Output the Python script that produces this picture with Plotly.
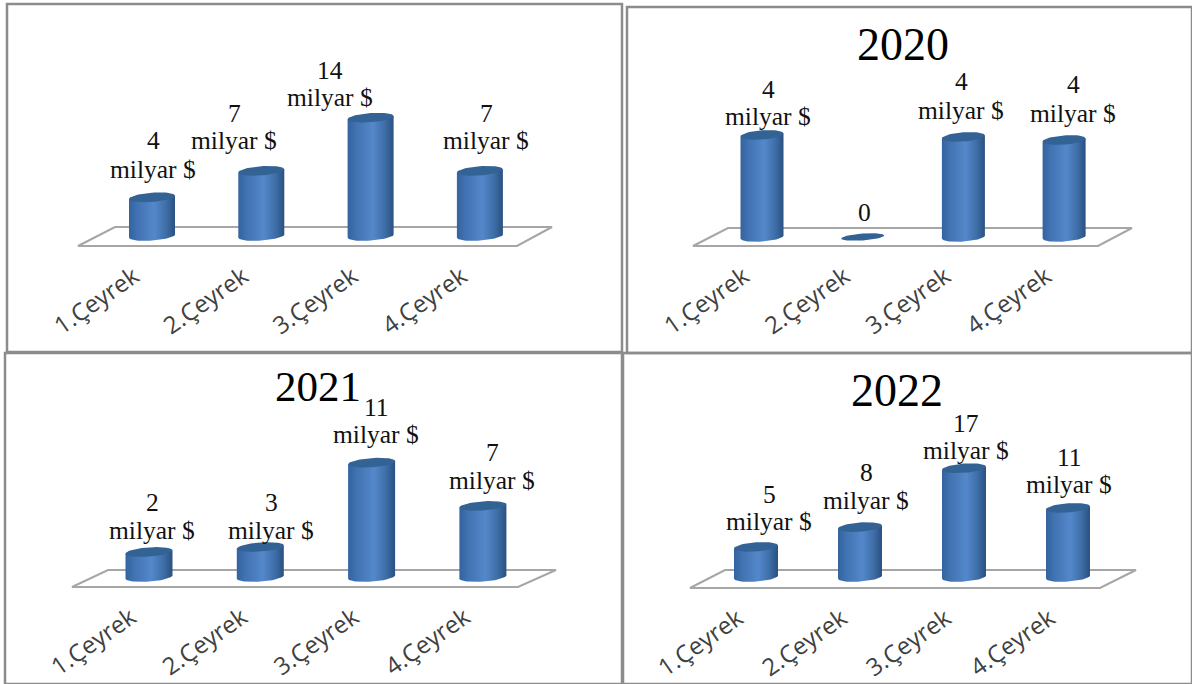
import numpy as np
import plotly.graph_objects as go

W, H = 1192, 684
categories = ["1.Çeyrek", "2.Çeyrek", "3.Çeyrek", "4.Çeyrek"]

values_a = [4.45, 7.49, 13.6, 7.49]
values_2020 = [4.05, 0, 3.97, 3.85]
values_2021 = [2.43, 2.91, 11.1, 6.9]
values_2022 = [4.7, 7.8, 17.0, 10.8]

numbers_a = ["4", "7", "14", "7"]
numbers_2020 = ["4", "0", "4", "4"]
numbers_2021 = ["2", "3", "11", "7"]
numbers_2022 = ["5", "8", "17", "11"]
unit = "milyar $"

# layout of each panel, in page pixels
panels = [
    dict(title=None, vals=values_a, nums=numbers_a,
         box=(7, 4, 622, 352), floor=[(78, 246), (517, 246), (552, 227), (115, 227)],
         c0=152, step=109.3, bw=46, base=236, scale=8.7, ty=None, tx=None, tsize=46,
         lx=[153, 234, 330, 486], ly1=[140, 114, 70, 114], ly2=[169, 141, 97, 141], shift=-18),
    dict(title="2020", vals=values_2020, nums=numbers_2020,
         box=(627, 7, 1192, 353), floor=[(693, 246), (1098, 246), (1132, 228), (728, 228)],
         c0=762, step=100.7, bw=43, base=237, scale=25.2, ty=44, tx=903, tsize=46,
         lx=[768, 864, 961, 1073], ly1=[90, 213, 82, 85], ly2=[117, None, 110, 113], shift=-18),
    dict(title="2021", vals=values_2021, nums=numbers_2021,
         box=(5, 353, 622, 684), floor=[(72, 587), (518, 587), (556, 570), (108, 570)],
         c0=149, step=111.3, bw=47, base=577, scale=10.3, ty=386, tx=318, tsize=43,
         lx=[152, 271, 376, 492], ly1=[502, 502, 407, 452], ly2=[530, 530, 434, 480], shift=-18),
    dict(title="2022", vals=values_2022, nums=numbers_2022,
         box=(623, 353, 1192, 684), floor=[(690, 588), (1100, 588), (1136, 570), (725, 570)],
         c0=756, step=104, bw=44, base=577, scale=6.4, ty=390, tx=897, tsize=46,
         lx=[769, 866, 966, 1069], ly1=[494, 472, 423, 457], ly2=[521, 500, 450, 484], shift=-18),
]

side_scale = [[0, "#33649f"], [0.2, "#4273b3"], [0.55, "#5488ca"], [0.8, "#3f6fa9"], [1, "#2a5180"]]
TOP = "#336295"
TILT = 0.07
RY = 4.6

fig = go.Figure()
shapes, annos = [], []


def px(x):
    return x / W


def py(y):
    return 1 - y / H


for n, p in enumerate(panels):
    sfx = "" if n == 0 else str(n + 1)
    L, T, R, B = p["box"]
    axis_y = p["floor"][0][1]
    xr = [(L - p["c0"]) / p["step"], (R - p["c0"]) / p["step"]]
    yr = [(p["base"] - axis_y) / p["scale"], (p["base"] - T) / p["scale"]]
    fig.update_layout({
        f"xaxis{sfx}": dict(domain=[px(L), px(R)], range=xr, tickmode="array", tickvals=[0, 1, 2, 3],
                            ticktext=categories, tickangle=-35, showgrid=False, zeroline=False, showline=False,
                            ticks="", ticklabelstandoff=11, ticklabelshift=p["shift"],
                            tickfont=dict(family="Open Sans", size=24, color="#404040"), anchor=f"y{sfx}",
                            fixedrange=True),
        f"yaxis{sfx}": dict(domain=[py(axis_y), py(T)], range=yr, visible=False, anchor=f"x{sfx}",
                            fixedrange=True),
    })
    xa, ya = f"x{sfx}", f"y{sfx}"
    hw = p["bw"] / 2 / p["step"]
    ry = RY / p["scale"]
    tilt = TILT * p["step"] / p["scale"]
    t = np.linspace(0, 2 * np.pi, 61)
    for i, v in enumerate(p["vals"]):
        if v > 0:
            # the bar itself, then the shaded cylinder built from the same value
            fig.add_trace(go.Bar(x=[i], y=[v], width=hw * 1.9, marker=dict(color="#4a7dbd", line_width=0),
                                 xaxis=xa, yaxis=ya, showlegend=False, hoverinfo="skip"))
            a = np.linspace(np.pi, 2 * np.pi, 31)
            xs = i + hw * np.cos(a)
            ys = ry * np.sin(a) + tilt * (xs - i)
            bx = np.concatenate([xs, [i + hw, i - hw, xs[0]]])
            by = np.concatenate([ys, [v + tilt * hw, v - tilt * hw, ys[0]]])
            fig.add_trace(go.Scatter(x=bx, y=by, mode="lines", line=dict(width=0), fill="toself",
                                     fillgradient=dict(type="horizontal", colorscale=side_scale),
                                     xaxis=xa, yaxis=ya, showlegend=False, hoverinfo="skip"))
        ex = i + hw * np.cos(t)
        ey = v + (ry if v > 0 else ry * 0.75) * np.sin(t) + tilt * (ex - i)
        fig.add_trace(go.Scatter(x=ex, y=ey, mode="lines", line=dict(width=0), fill="toself", fillcolor=TOP,
                                 xaxis=xa, yaxis=ya, showlegend=False, hoverinfo="skip"))
        annos.append(dict(x=px(p["lx"][i]), y=py(p["ly1"][i]), xref="paper", yref="paper", text=p["nums"][i],
                          showarrow=False, xanchor="center", yanchor="middle",
                          font=dict(family="Liberation Serif", size=25.5, color="#111111")))
        if p["ly2"][i] is not None:
            annos.append(dict(x=px(p["lx"][i]), y=py(p["ly2"][i]), xref="paper", yref="paper", text=unit,
                              showarrow=False, xanchor="center", yanchor="middle",
                              font=dict(family="Liberation Serif", size=25.5, color="#111111")))
    if p["title"]:
        annos.append(dict(x=px(p["tx"]), y=py(p["ty"]), xref="paper", yref="paper", text=p["title"],
                          showarrow=False, xanchor="center", yanchor="middle",
                          font=dict(family="Liberation Serif", size=p["tsize"], color="#000000")))
    path = "M " + " L ".join(f"{px(x):.5f},{py(y):.5f}" for x, y in p["floor"]) + " Z"
    shapes.append(dict(type="path", path=path, xref="paper", yref="paper", layer="below",
                       line=dict(color="#a6a6a6", width=2), fillcolor="rgba(0,0,0,0)"))
    shapes.append(dict(type="rect", x0=px(L), x1=px(R), y0=py(B), y1=py(T), xref="paper", yref="paper",
                       layer="below", line=dict(color="#8c8c8c", width=2.5), fillcolor="rgba(0,0,0,0)"))

fig.update_layout(width=W, height=H, margin=dict(l=0, r=0, t=0, b=0), autosize=False,
                  paper_bgcolor="white", plot_bgcolor="rgba(0,0,0,0)", barmode="overlay",
                  showlegend=False, shapes=shapes, annotations=annos)
fig.write_html("out.html", config=dict(displayModeBar=False),
               post_script="document.body.style.margin='0';document.body.style.overflow='hidden';")
